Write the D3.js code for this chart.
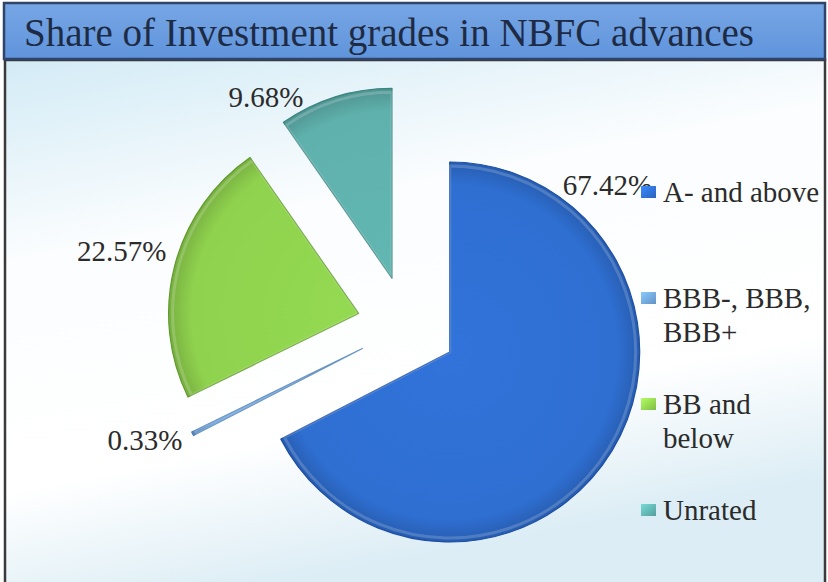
<!DOCTYPE html>
<html>
<head>
<meta charset="utf-8">
<script src="https://cdn.jsdelivr.net/npm/d3@7"></script>
<style>
  html, body { margin: 0; padding: 0; background: #fff; }
  svg { display: block; }
</style>
</head>
<body>
<div id="chart"></div>
<script>
const title = 'Share of Investment grades in NBFC advances';
const categories = ['A- and above', 'BBB-, BBB, BBB+', 'BB and below', 'Unrated'];
const legendLines = [['A- and above'], ['BBB-, BBB,', 'BBB+'], ['BB and', 'below'], ['Unrated']];
const shares = [67.42, 0.33, 22.57, 9.68];
const colors = ['#2f6fd2', '#6ea3dc', '#8fd24e', '#5fb1ad'];
const edgeColors = ['#1d4fa6', '#4a7fb8', '#5f9a2a', '#3b8580'];

// layout
const width = 828, height = 582;
const serif = '"Liberation Serif", "Times New Roman", Times, "DejaVu Serif", serif';
const cx = 407, cy = 326, radius = 190, explode = 50;
const labelAngles = [34, 243, 288, 334];
const labelAnchors = ['start', 'end', 'end', 'end'];

const svg = d3.select('#chart').append('svg')
  .attr('width', width)
  .attr('height', height)
  .attr('font-family', serif);

const defs = svg.append('defs');

const bg = defs.append('linearGradient')
  .attr('id', 'bg')
  .attr('x1', 0).attr('y1', 0).attr('x2', 0.3).attr('y2', 1);
bg.append('stop').attr('offset', '0%').attr('stop-color', '#d3ebf6');
bg.append('stop').attr('offset', '35%').attr('stop-color', '#fbfdfe');
bg.append('stop').attr('offset', '75%').attr('stop-color', '#ffffff');
bg.append('stop').attr('offset', '100%').attr('stop-color', '#dcedf5');

const titleGrad = defs.append('linearGradient')
  .attr('id', 'titleGrad')
  .attr('x1', 0).attr('y1', 0).attr('x2', 0).attr('y2', 1);
titleGrad.append('stop').attr('offset', '0%').attr('stop-color', '#77a6e4');
titleGrad.append('stop').attr('offset', '100%').attr('stop-color', '#5f94dc');

colors.forEach((c, i) => {
  const g = defs.append('radialGradient')
    .attr('id', 'slice' + i)
    .attr('gradientUnits', 'userSpaceOnUse')
    .attr('cx', 0).attr('cy', 0).attr('r', radius);
  g.append('stop').attr('offset', '0%').attr('stop-color', d3.color(c).brighter(0.1));
  g.append('stop').attr('offset', '88%').attr('stop-color', c);
  g.append('stop').attr('offset', '100%').attr('stop-color', d3.color(c).darker(0.5));

  const m = defs.append('linearGradient')
    .attr('id', 'mark' + i)
    .attr('x1', 0).attr('y1', 0).attr('x2', 1).attr('y2', 1);
  m.append('stop').attr('offset', '0%').attr('stop-color', d3.color(c).brighter(0.6));
  m.append('stop').attr('offset', '100%').attr('stop-color', d3.color(c).darker(0.3));
});

// background and frame
svg.append('rect')
  .attr('x', 5).attr('y', 60)
  .attr('width', 820).attr('height', 530)
  .attr('fill', 'url(#bg)')
  .attr('stroke', '#3a3a3a')
  .attr('stroke-width', 2.5);

svg.append('rect')
  .attr('x', 4).attr('y', 3)
  .attr('width', 821).attr('height', 56)
  .attr('fill', 'url(#titleGrad)')
  .attr('stroke', '#2f4468')
  .attr('stroke-width', 2.5);

svg.append('text')
  .attr('x', 24)
  .attr('y', 46)
  .attr('font-family', serif)
  .attr('font-size', 39)
  .attr('fill', '#1e2b45')
  .text(title);

// pie
const data = categories.map((c, i) => ({ name: c, value: shares[i], i: i }));

const pie = d3.pie()
  .sort(null)
  .value((d) => d.value);

const arcs = pie(data);

const arc = d3.arc()
  .innerRadius(0)
  .outerRadius(radius);

const dir = (deg) => {
  const a = deg * Math.PI / 180;
  return [Math.sin(a), -Math.cos(a)];
};

const midDeg = (d) => (d.startAngle + d.endAngle) / 2 * 180 / Math.PI;

const pieG = svg.append('g')
  .attr('transform', 'translate(' + cx + ',' + cy + ')');

const slices = pieG.selectAll('.slice')
  .data(arcs)
  .enter()
  .append('g')
  .attr('class', 'slice')
  .attr('transform', (d) => {
    const [ux, uy] = dir(midDeg(d));
    return 'translate(' + (ux * explode) + ',' + (uy * explode) + ')';
  });

slices.append('path')
  .attr('d', arc)
  .attr('fill', (d) => 'url(#slice' + d.data.i + ')')
  .attr('stroke', (d) => edgeColors[d.data.i])
  .attr('stroke-width', 1.2)
  .attr('stroke-linejoin', 'round');

// soft inner highlight for a bevelled look
slices.append('path')
  .attr('d', d3.arc().innerRadius(0).outerRadius(radius - 4))
  .attr('fill', 'none')
  .attr('stroke', '#ffffff')
  .attr('stroke-opacity', 0.18)
  .attr('stroke-width', 3)
  .attr('stroke-linejoin', 'round');

slices.append('text')
  .attr('x', (d) => dir(labelAngles[d.data.i])[0] * (radius + 12))
  .attr('y', (d) => dir(labelAngles[d.data.i])[1] * (radius + 12))
  .attr('dy', '0.35em')
  .attr('text-anchor', (d) => labelAnchors[d.data.i])
  .attr('font-family', serif)
  .attr('font-size', 29)
  .attr('fill', '#2b2b2b')
  .text((d) => d3.format('.2f')(d.data.value) + '%');

// legend
const legendY = d3.scalePoint()
  .domain(categories)
  .range([192, 510]);

const legend = svg.append('g')
  .selectAll('.legend')
  .data(categories)
  .enter()
  .append('g')
  .attr('class', 'legend')
  .attr('transform', (d) => 'translate(641,' + legendY(d) + ')');

legend.append('rect')
  .attr('x', 0).attr('y', -6)
  .attr('width', 15).attr('height', 12)
  .attr('fill', (d, i) => 'url(#mark' + i + ')');

legend.append('text')
  .attr('x', 22)
  .attr('y', 0)
  .attr('font-family', serif)
  .attr('font-size', 29)
  .attr('fill', '#2b2b2b')
  .selectAll('tspan')
  .data((d, i) => legendLines[i])
  .enter()
  .append('tspan')
  .attr('x', 22)
  .attr('dy', (d, j) => j === 0 ? '0.35em' : '1.15em')
  .text((d) => d);
</script>
</body>
</html>
